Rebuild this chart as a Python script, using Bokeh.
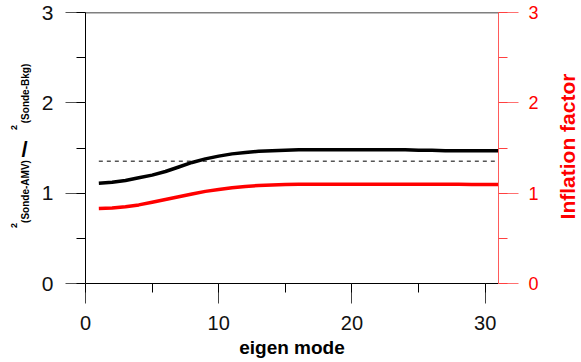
import math
from bokeh.plotting import figure
from bokeh.layouts import row
from bokeh.models import (LinearAxis, Range1d, SingleIntervalTicker, Span)
from bokeh.core.properties import value
from bokeh.embed import file_html
from bokeh.resources import INLINE

# ---- data ----
modes = list(range(1, 32))
ratio = [1.11, 1.12, 1.14, 1.17, 1.20, 1.24, 1.29, 1.34, 1.38, 1.41,
         1.435, 1.45, 1.465, 1.47, 1.475, 1.48, 1.48, 1.48, 1.48, 1.48,
         1.48, 1.48, 1.48, 1.48, 1.475, 1.475, 1.47, 1.47, 1.47, 1.47, 1.47]
inflation = [0.83, 0.835, 0.85, 0.87, 0.90, 0.93, 0.96, 0.99, 1.02, 1.04,
             1.06, 1.075, 1.085, 1.09, 1.095, 1.10, 1.10, 1.10, 1.10, 1.10,
             1.10, 1.10, 1.10, 1.10, 1.10, 1.10, 1.10, 1.10, 1.095, 1.095, 1.095]
ref_x = [1, 31]
ref_y = [1.354, 1.354]
x_ticks_interval = 10
y_ticks_interval = 1
left_label_parts = ["2", "(Sonde-AMV)", "/", "2", "(Sonde-Bkg)"]
right_label = "Inflation factor"
bottom_label = "eigen mode"

FONT = "Liberation Sans"
H = 362
TOP, BOT = 12, 283          # frame top/bottom in page pixels
LW = 38
RW = 29
MW = 581 - LW - RW

p = figure(width=MW, height=H, output_backend="svg", toolbar_location=None,
           x_range=Range1d(0, 31), y_range=Range1d(0, 3),
           min_border_left=85 - LW, min_border_right=(581 - 498) - RW,
           min_border_top=TOP, min_border_bottom=H - BOT,
           x_axis_type=None, y_axis_type=None)
p.outline_line_color = None
p.xgrid.visible = False
p.ygrid.visible = False
p.extra_y_ranges = {"right": Range1d(0, 3)}

def style(ax, color, tick_color, minor_color, fs):
    ax.axis_line_color = color
    ax.major_tick_line_color = tick_color
    ax.minor_tick_line_color = minor_color
    ax.major_tick_out = 20
    ax.major_tick_in = 0
    ax.minor_tick_out = 9
    ax.minor_tick_in = 0
    ax.major_label_text_font = FONT
    ax.major_label_text_font_size = fs

xa = LinearAxis(ticker=SingleIntervalTicker(interval=x_ticks_interval, num_minor_ticks=2))
style(xa, "black", "#444444", "black", "20px")
xa.major_label_text_color = "#111111"
xa.major_label_standoff = 12
xa.axis_label = bottom_label
xa.axis_label_text_font = FONT
xa.axis_label_text_font_style = "bold"
xa.axis_label_text_font_size = "19px"
xa.axis_label_text_color = "black"
xa.axis_label_standoff = 4
p.add_layout(xa, "below")

ya = LinearAxis(ticker=SingleIntervalTicker(interval=y_ticks_interval, num_minor_ticks=2))
style(ya, "black", "#555555", "black", "21px")
ya.major_label_text_color = "#111111"
ya.major_label_standoff = 12
p.add_layout(ya, "left")

ra = LinearAxis(y_range_name="right",
                ticker=SingleIntervalTicker(interval=y_ticks_interval, num_minor_ticks=2))
style(ra, "#ff5a5a", "#ff7070", "#ff4040", "18px")
ra.major_label_text_color = "red"
ra.major_label_standoff = 10
p.add_layout(ra, "right")

p.add_layout(Span(location=3, dimension="width", line_color="black", line_width=1.5))

p.line(ref_x, ref_y, line_color="#555555", line_width=1.5, line_dash="4 4")
p.line(modes, ratio, line_color="black", line_width=3.5, line_join="round")
p.line(modes, inflation, line_color="red", line_width=3.5, line_join="round",
       y_range_name="right")

# strips for the rotated axis titles; their frames line up with the main frame,
# so the y range is given in page pixels measured from the bottom of the page
def strip(w):
    f = figure(width=w, height=H, output_backend="svg", toolbar_location=None,
               x_range=Range1d(0, w), y_range=Range1d(H - BOT, H - TOP),
               min_border=0, x_axis_type=None, y_axis_type=None)
    f.outline_line_color = None
    f.xgrid.visible = False
    f.ygrid.visible = False
    return f

lf = strip(LW)
pos_x = [13, 25, 24, 13, 25]
pos_y = [H - 225, H - 191, H - 149, H - 127, H - 93]
sizes = ["9px", "10px", "22px", "9px", "10px"]
angles = [math.pi / 2, math.pi / 2, 0.0, math.pi / 2, math.pi / 2]
for t, x, y, s, a in zip(left_label_parts, pos_x, pos_y, sizes, angles):
    lf.text(x=[x], y=[y], text=[t], angle=a, text_align="center", text_baseline="middle",
            text_font=value(FONT), text_font_style="bold", text_font_size=s,
            text_color="black")

rf = strip(RW)
rf.text(x=[567 - (581 - RW)], y=[H - 146], text=[right_label], angle=math.pi / 2,
        text_align="center", text_baseline="middle", text_font=value(FONT),
        text_font_style="bold", text_font_size="21px", text_color="red")

layout = row(lf, p, rf, spacing=0)
open("out.html", "w").write(file_html(layout, INLINE))
